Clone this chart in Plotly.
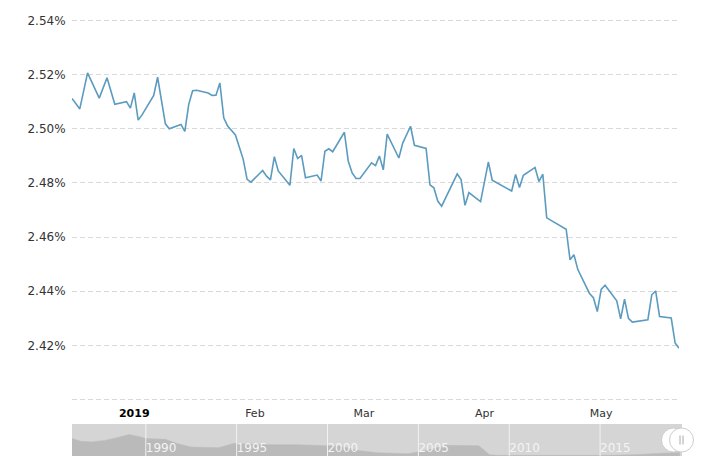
import plotly.graph_objects as go

# daily readings, Dec 2018 - May 2019 (percent)
dates = [
    "2018-12-16", "2018-12-18", "2018-12-20", "2018-12-23", "2018-12-25", "2018-12-27",
    "2018-12-30", "2018-12-31", "2019-01-01", "2019-01-02", "2019-01-03", "2019-01-06",
    "2019-01-07", "2019-01-09", "2019-01-10", "2019-01-13", "2019-01-14", "2019-01-15",
    "2019-01-16", "2019-01-17", "2019-01-20", "2019-01-21", "2019-01-22", "2019-01-23",
    "2019-01-24", "2019-01-25", "2019-01-27", "2019-01-28", "2019-01-29", "2019-01-30",
    "2019-01-31", "2019-02-03", "2019-02-04", "2019-02-05", "2019-02-06", "2019-02-07",
    "2019-02-08", "2019-02-10", "2019-02-11", "2019-02-12", "2019-02-13", "2019-02-14",
    "2019-02-17", "2019-02-18", "2019-02-19", "2019-02-20", "2019-02-21", "2019-02-24",
    "2019-02-25", "2019-02-26", "2019-02-27", "2019-02-28", "2019-03-03", "2019-03-04",
    "2019-03-05", "2019-03-06", "2019-03-07", "2019-03-10", "2019-03-11", "2019-03-13",
    "2019-03-14", "2019-03-17", "2019-03-18", "2019-03-19", "2019-03-20", "2019-03-21",
    "2019-03-25", "2019-03-26", "2019-03-27", "2019-03-28", "2019-03-31", "2019-04-02",
    "2019-04-03", "2019-04-08", "2019-04-09", "2019-04-10", "2019-04-11", "2019-04-14",
    "2019-04-15", "2019-04-16", "2019-04-17", "2019-04-22", "2019-04-23", "2019-04-24",
    "2019-04-25", "2019-04-28", "2019-04-29", "2019-04-30", "2019-05-01", "2019-05-02",
    "2019-05-05", "2019-05-06", "2019-05-07", "2019-05-08", "2019-05-09", "2019-05-13",
    "2019-05-14", "2019-05-15", "2019-05-16", "2019-05-19", "2019-05-20", "2019-05-21",
]
rates = [
    2.5112, 2.5073, 2.5206, 2.5113, 2.5188, 2.5090,
    2.5100, 2.5076, 2.5132, 2.5032, 2.5051, 2.5123,
    2.5190, 2.5018, 2.5000, 2.5016, 2.4990, 2.5090,
    2.5140, 2.5142, 2.5132, 2.5123, 2.5124, 2.5169,
    2.5040, 2.5010, 2.4977, 2.4936, 2.4887, 2.4813,
    2.4803, 2.4846, 2.4825, 2.4811, 2.4897, 2.4844,
    2.4825, 2.4791, 2.4927, 2.4890, 2.4902, 2.4819,
    2.4829, 2.4807, 2.4917, 2.4926, 2.4915, 2.4987,
    2.4880, 2.4837, 2.4816, 2.4816, 2.4874, 2.4864,
    2.4899, 2.4848, 2.4980, 2.4892, 2.4947, 2.5009,
    2.4939, 2.4927, 2.4793, 2.4782, 2.4733, 2.4714,
    2.4833, 2.4812, 2.4717, 2.4764, 2.4731, 2.4877,
    2.4810, 2.4770, 2.4831, 2.4783, 2.4828, 2.4857,
    2.4805, 2.4832, 2.4671, 2.4629, 2.4516, 2.4535,
    2.4480, 2.4392, 2.4376, 2.4325, 2.4407, 2.4422,
    2.4365, 2.4298, 2.4371, 2.4300, 2.4286, 2.4295,
    2.4387, 2.4401, 2.4307, 2.4301, 2.4209, 2.4190,
]

# long history shown in the navigator strip
nav_dates = [
    "1985-12-10", "1986-06-01", "1987-01-01", "1987-10-01", "1988-04-01", "1988-11-01",
    "1989-02-01", "1989-09-01", "1990-01-01", "1991-02-01", "1991-10-01", "1992-07-01",
    "1994-01-01", "1994-11-01", "1996-08-01", "1998-05-01", "1999-12-01", "2000-10-01",
    "2001-09-01", "2002-10-01", "2004-06-01", "2005-06-01", "2006-08-01", "2008-05-01",
    "2008-12-01", "2009-06-01", "2015-06-01", "2016-12-01", "2018-02-01", "2019-05-21",
]
nav_values = [
    8.2, 6.9, 6.6, 7.3, 8.2, 9.4,
    10.1, 9.0, 8.2, 7.8, 5.8, 4.2,
    3.9, 5.9, 5.3, 5.3, 5.0, 4.6,
    2.6, 1.5, 1.1, 2.6, 5.0, 4.8,
    0.6, 0.3, 0.3, 0.6, 1.2, 1.6,
]

y_ticks = [2.40, 2.42, 2.44, 2.46, 2.48, 2.50, 2.52, 2.54]
y_labels = ["", "2.42%", "2.44%", "2.46%", "2.48%", "2.50%", "2.52%", "2.54%"]
month_ticks = ["2019-01-01", "2019-02-01", "2019-03-01", "2019-04-01", "2019-05-01"]
month_labels = ["<b><span style='color:#000'>2019</span></b>", "Feb", "Mar", "Apr", "May"]
nav_years = ["1990-01-01", "1995-01-01", "2000-01-01", "2005-01-01", "2010-01-01", "2015-01-01"]
nav_labels = ["1990", "1995", "2000", "2005", "2010", "2015"]

FONT = "DejaVu Sans"

fig = go.Figure()
fig.add_trace(go.Scatter(x=dates, y=rates, mode="lines",
                         line=dict(color="#5b9bc0", width=1.6),
                         xaxis="x", yaxis="y", hoverinfo="skip"))
fig.add_trace(go.Scatter(x=nav_dates, y=nav_values, mode="lines", fill="tozeroy",
                         line=dict(color="#bababa", width=0.5), fillcolor="#bababa",
                         xaxis="x2", yaxis="y2", hoverinfo="skip"))

shapes = [dict(type="rect", xref="x2 domain", yref="y2 domain", x0=0, x1=1, y0=0, y1=1,
               fillcolor="#d5d5d5", line=dict(width=0), layer="below")]
for yr in nav_years:
    shapes.append(dict(type="line", xref="x2", yref="y2 domain", x0=yr, x1=yr, y0=0, y1=1,
                       line=dict(color="#f2f2f2", width=1), layer="above"))
# navigator handles
for cx in [0.986, 0.9992]:
    shapes.append(dict(type="circle", xref="paper", yref="paper", xsizemode="pixel",
                       ysizemode="pixel", xanchor=cx, yanchor=0.0366, x0=-12, x1=12,
                       y0=-12, y1=12, fillcolor="white", line=dict(color="#cccccc", width=1)))
for dx in [-1.5, 1.5]:
    shapes.append(dict(type="line", xref="paper", yref="paper", xsizemode="pixel",
                       ysizemode="pixel", xanchor=0.9992, yanchor=0.0366, x0=dx, x1=dx,
                       y0=-4.5, y1=4.5, line=dict(color="#aaaaaa", width=1)))

# the page body adds an 8px offset, so margins are shifted to compensate
fig.update_layout(
    width=704, height=471,
    margin=dict(l=64, r=30, t=11, b=23),
    paper_bgcolor="white", plot_bgcolor="white",
    showlegend=False,
    font=dict(family=FONT, color="#333333"),
    shapes=shapes,
    xaxis=dict(domain=[0, 0.9951], range=["2018-12-16", "2019-05-21"], type="date",
               tickvals=month_ticks, ticktext=month_labels, showgrid=False, zeroline=False,
               showline=False, ticks="outside", ticklen=2, tickcolor="rgba(0,0,0,0)",
               tickfont=dict(size=11, color="#333333"), anchor="y", automargin=False),
    yaxis=dict(domain=[0.1259, 1], range=[2.3995, 2.5405], tickvals=y_ticks, ticktext=y_labels,
               showgrid=True, gridcolor="#d9d9d9", griddash="5px,3px", gridwidth=1,
               zeroline=False, showline=False, ticks="outside", ticklen=3,
               tickcolor="rgba(0,0,0,0)", tickfont=dict(size=12, color="#333333"),
               anchor="x", automargin=False),
    xaxis2=dict(domain=[0, 1], range=["1985-12-10", "2019-07-05"], type="date",
                tickvals=nav_years, ticktext=nav_labels, ticklabelposition="inside right",
                ticklabelstandoff=-4,
                showgrid=False, zeroline=False, showline=False, ticks="",
                tickfont=dict(size=12, color="#f4f4f4"), anchor="y2", automargin=False),
    yaxis2=dict(domain=[0, 0.0732], range=[0, 15], showticklabels=False, showgrid=False,
                zeroline=False, showline=False, anchor="x2", automargin=False),
)

fig.write_html("out.html", config={"displayModeBar": False})
